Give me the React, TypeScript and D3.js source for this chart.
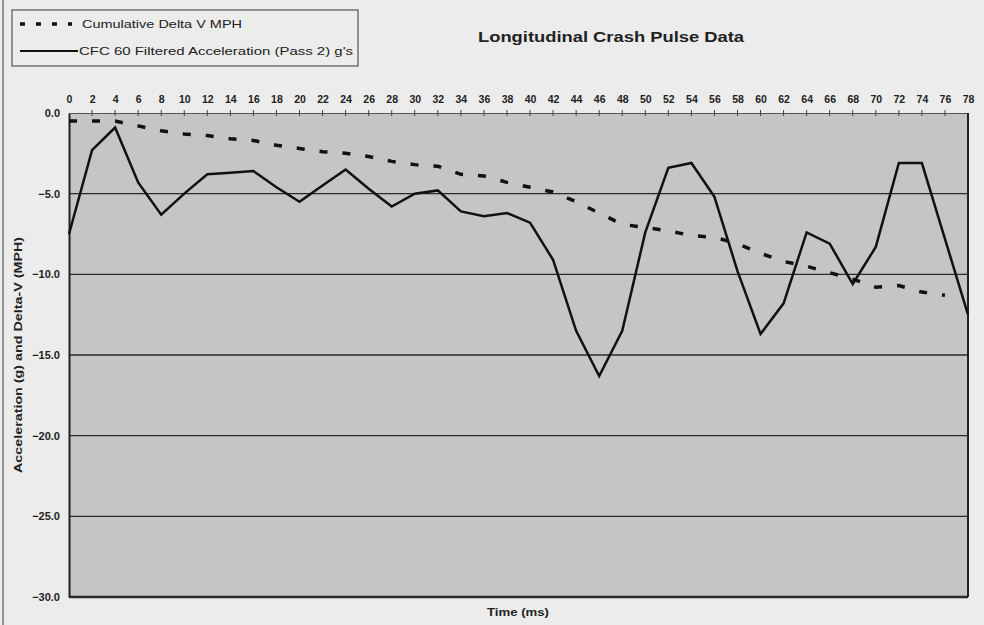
import React, { useEffect, useRef } from 'react';
import * as d3 from 'd3';

// time in ms (every 2 ms)
const times = [0, 2, 4, 6, 8, 10, 12, 14, 16, 18, 20, 22, 24, 26, 28, 30, 32, 34, 36, 38,
  40, 42, 44, 46, 48, 50, 52, 54, 56, 58, 60, 62, 64, 66, 68, 70, 72, 74, 76, 78];

// CFC 60 filtered acceleration (g)
const accel = [-7.5, -2.3, -0.9, -4.3, -6.3, -5.0, -3.8, -3.7, -3.6, -4.6, -5.5, -4.5, -3.5, -4.7,
  -5.8, -5.0, -4.8, -6.1, -6.4, -6.2, -6.8, -9.1, -13.5, -16.3, -13.5, -7.4, -3.4, -3.1, -5.2, -9.8,
  -13.7, -11.8, -7.4, -8.1, -10.6, -8.3, -3.1, -3.1, -7.8, -12.5];

// cumulative delta-V (MPH), stops at 76 ms
const deltaV = [-0.5, -0.5, -0.5, -0.8, -1.1, -1.3, -1.4, -1.6, -1.7, -2.0, -2.2, -2.4, -2.5, -2.7,
  -3.0, -3.2, -3.3, -3.8, -3.9, -4.3, -4.6, -4.9, -5.5, -6.2, -6.9, -7.1, -7.3, -7.6, -7.7, -8.1,
  -8.7, -9.2, -9.5, -9.9, -10.3, -10.8, -10.7, -11.1, -11.3];

const yTicks = [0, -5, -10, -15, -20, -25, -30];

const seriesNames = ['Cumulative Delta V MPH', "CFC 60 Filtered Acceleration (Pass 2) g's"];

const App = () => {
  const svgRef = useRef();

  useEffect(() => {
    const svg = d3.select(svgRef.current);
    svg.selectAll('*').remove();

    const width = 984;
    const height = 625;
    const margin = { top: 113, right: 16, bottom: 28, left: 69 };
    const font = '"Liberation Sans", Arial, sans-serif';

    svg.append('rect').attr('width', width).attr('height', height).attr('fill', '#ececec');
    svg.append('line').attr('x1', 3).attr('x2', 3).attr('y1', 0).attr('y2', height)
      .attr('stroke', '#777').attr('stroke-width', 1.5);

    const x = d3.scaleLinear().domain([0, 78]).range([margin.left, width - margin.right]);
    const y = d3.scaleLinear().domain([-30, 0]).range([height - margin.bottom, margin.top]);

    // plot area
    svg.append('rect')
      .attr('x', x(0)).attr('y', y(0))
      .attr('width', x(78) - x(0)).attr('height', y(-30) - y(0))
      .attr('fill', '#c5c5c5');

    // horizontal gridlines
    svg.append('g')
      .selectAll('line')
      .data(yTicks.filter(d => d !== 0))
      .join('line')
      .attr('x1', x(0)).attr('x2', x(78))
      .attr('y1', d => y(d)).attr('y2', d => y(d))
      .attr('stroke', '#2a2a2a')
      .attr('stroke-width', d => (d === -30 ? 2.5 : 1.4));

    // top axis (y = 0) with ticks crossing it
    const topAxis = svg.append('g').attr('transform', `translate(0,${y(0)})`)
      .call(d3.axisTop(x).tickValues(times).tickSize(0).tickPadding(10).tickFormat(d3.format('d')));
    topAxis.select('.domain').attr('stroke', '#555').attr('stroke-width', 1.2);
    topAxis.selectAll('text')
      .attr('font-family', font).attr('font-size', 10.5).attr('font-weight', 'bold').attr('fill', '#222');
    svg.append('g')
      .selectAll('line')
      .data(times.slice(1, -1))
      .join('line')
      .attr('x1', d => x(d)).attr('x2', d => x(d))
      .attr('y1', y(0) - 3).attr('y2', y(0) + 3)
      .attr('stroke', '#444').attr('stroke-width', 1);

    // left axis
    const leftAxis = svg.append('g').attr('transform', `translate(${x(0)},0)`)
      .call(d3.axisLeft(y).tickValues(yTicks).tickSize(0).tickPadding(9).tickFormat(d3.format('.1f')));
    leftAxis.select('.domain').attr('stroke', '#222').attr('stroke-width', 2);
    leftAxis.selectAll('text')
      .attr('font-family', font).attr('font-size', 11).attr('font-weight', 'bold').attr('fill', '#222');

    // right border
    svg.append('line')
      .attr('x1', x(78)).attr('x2', x(78)).attr('y1', y(0)).attr('y2', y(-30))
      .attr('stroke', '#222').attr('stroke-width', 2);

    const line = d3.line().x((d) => x(d[0])).y((d) => y(d[1]));

    svg.append('path')
      .datum(deltaV.map((v, i) => [times[i], v]))
      .attr('d', line)
      .attr('fill', 'none')
      .attr('stroke', '#111')
      .attr('stroke-width', 3.5)
      .attr('stroke-dasharray', '8,15');

    svg.append('path')
      .datum(accel.map((v, i) => [times[i], v]))
      .attr('d', line)
      .attr('fill', 'none')
      .attr('stroke', '#111')
      .attr('stroke-width', 2.5)
      .attr('stroke-linejoin', 'miter');

    // title
    svg.append('text')
      .attr('x', 611).attr('y', 42)
      .attr('text-anchor', 'middle')
      .attr('font-family', font).attr('font-size', 14).attr('font-weight', 'bold').attr('fill', '#222')
      .attr('textLength', 266).attr('lengthAdjust', 'spacingAndGlyphs')
      .text('Longitudinal Crash Pulse Data');

    // axis titles
    svg.append('text')
      .attr('x', 518).attr('y', 616)
      .attr('text-anchor', 'middle')
      .attr('font-family', font).attr('font-size', 10).attr('font-weight', 'bold').attr('fill', '#222')
      .attr('textLength', 62).attr('lengthAdjust', 'spacingAndGlyphs')
      .text('Time (ms)');
    svg.append('text')
      .attr('transform', `translate(22,${(y(0) + y(-30)) / 2}) rotate(-90)`)
      .attr('text-anchor', 'middle')
      .attr('font-family', font).attr('font-size', 10).attr('font-weight', 'bold').attr('fill', '#222')
      .attr('textLength', 236).attr('lengthAdjust', 'spacingAndGlyphs')
      .text('Acceleration (g) and Delta-V (MPH)');

    // legend
    const legend = svg.append('g');
    legend.append('rect')
      .attr('x', 12).attr('y', 10).attr('width', 346).attr('height', 56)
      .attr('fill', '#ececec').attr('stroke', '#555').attr('stroke-width', 1.2);
    legend.append('line')
      .attr('x1', 20).attr('x2', 72).attr('y1', 24).attr('y2', 24)
      .attr('stroke', '#111').attr('stroke-width', 3.5).attr('stroke-dasharray', '5,11');
    legend.append('line')
      .attr('x1', 20).attr('x2', 78).attr('y1', 51).attr('y2', 51)
      .attr('stroke', '#111').attr('stroke-width', 2);
    legend.selectAll('text.item')
      .data(seriesNames)
      .join('text')
      .attr('class', 'item')
      .attr('x', (d, i) => (i === 0 ? 82 : 79))
      .attr('y', (d, i) => (i === 0 ? 28 : 55))
      .attr('font-family', font).attr('font-size', 11).attr('fill', '#222')
      .attr('textLength', (d, i) => (i === 0 ? 160 : 274))
      .attr('lengthAdjust', 'spacingAndGlyphs')
      .text(d => d);
  }, []);

  return (
    <svg ref={svgRef} width={984} height={625}
      style={{ position: 'absolute', left: 0, top: 0, display: 'block' }} />
  );
};

export default App;
